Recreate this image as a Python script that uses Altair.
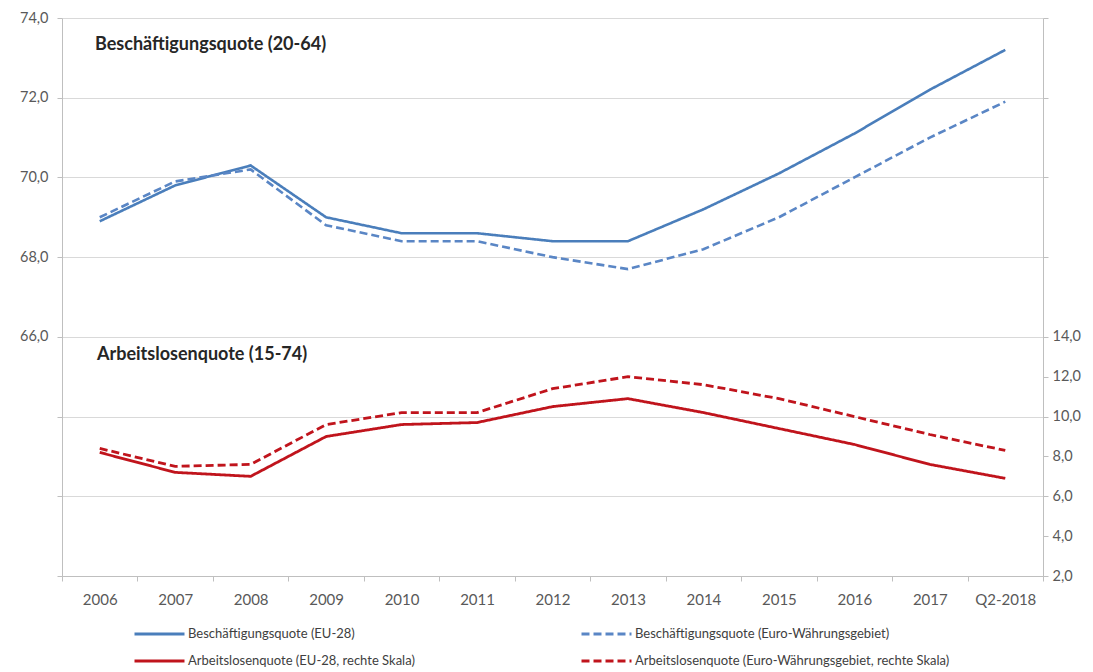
import altair as alt
import pandas as pd

years = ["2006", "2007", "2008", "2009", "2010", "2011", "2012", "2013",
         "2014", "2015", "2016", "2017", "Q2-2018"]

emp_eu28 = [68.9, 69.8, 70.3, 69.0, 68.6, 68.6, 68.4, 68.4, 69.2, 70.1, 71.1, 72.2, 73.2]
emp_euro = [69.0, 69.9, 70.2, 68.8, 68.4, 68.4, 68.0, 67.7, 68.2, 69.0, 70.0, 71.0, 71.9]
unemp_eu28 = [8.2, 7.2, 7.0, 9.0, 9.6, 9.7, 10.5, 10.9, 10.2, 9.4, 8.6, 7.6, 6.9]
unemp_euro = [8.4, 7.5, 7.6, 9.6, 10.2, 10.2, 11.4, 12.0, 11.6, 10.9, 10.0, 9.1, 8.3]

s_emp_eu = "Beschäftigungsquote (EU-28)"
s_emp_ea = "Beschäftigungsquote (Euro-Währungsgebiet)"
s_un_eu = "Arbeitslosenquote (EU-28, rechte Skala)"
s_un_ea = "Arbeitslosenquote (Euro-Währungsgebiet, rechte Skala)"

# legend order (filled column by column)
series = [s_emp_eu, s_un_eu, s_emp_ea, s_un_ea]
colors = ["#4a7ebb", "#c0141c", "#5a86c5", "#c0141c"]
dashes = [[1, 0], [1, 0], [8, 4], [8, 4]]

emp_df = pd.DataFrame(
    [{"Jahr": y, "Reihe": s_emp_eu, "Wert": v} for y, v in zip(years, emp_eu28)]
    + [{"Jahr": y, "Reihe": s_emp_ea, "Wert": v} for y, v in zip(years, emp_euro)]
)
unemp_df = pd.DataFrame(
    [{"Jahr": y, "Reihe": s_un_eu, "Wert": v} for y, v in zip(years, unemp_eu28)]
    + [{"Jahr": y, "Reihe": s_un_ea, "Wert": v} for y, v in zip(years, unemp_euro)]
)

FONT = "Lato"
LBL = "#595959"
AX = "#bfbfbf"

legend = alt.Legend(
    title=None, orient="none", legendX=71, legendY=608,
    columns=2, columnPadding=165, rowPadding=11, clipHeight=16,
    symbolType="stroke", symbolSize=2500, symbolStrokeWidth=3,
    labelFont=FONT, labelFontSize=13, labelColor="#404040", labelOffset=2,
    labelLimit=500,
)

x_enc = alt.X(
    "Jahr:N", sort=years, bandPosition=0.5,
    scale=alt.Scale(type="band", paddingInner=0, paddingOuter=0),
    axis=alt.Axis(title=None, labelAngle=0, tickBand="extent", grid=False,
                  domainColor=AX, tickColor=AX, tickSize=5, labelPadding=11,
                  labelFont=FONT, labelFontSize=15, labelColor=LBL),
)

color_enc = alt.Color("Reihe:N", scale=alt.Scale(domain=series, range=colors), sort=series, legend=legend)
dash_enc = alt.StrokeDash("Reihe:N", scale=alt.Scale(domain=series, range=dashes), sort=series, legend=legend)

fmt = "replace(format(datum.value, '.1f'), '.', ',')"

emp = alt.Chart(emp_df).mark_line(strokeWidth=2.6).encode(
    x=x_enc,
    y=alt.Y("Wert:Q", scale=alt.Scale(domain=[60, 74], nice=False, zero=False),
            axis=alt.Axis(orient="left", title=None, values=list(range(60, 75, 2)),
                          labelExpr=f"datum.value >= 66 ? {fmt} : ''",
                          grid=True, gridColor="#d9d9d9", domainColor=AX, tickColor=AX,
                          tickSize=5, labelPadding=9, labelFont=FONT, labelFontSize=14.5,
                          labelColor=LBL)),
    color=color_enc,
    strokeDash=dash_enc,
)

unemp = alt.Chart(unemp_df).mark_line(strokeWidth=2.8).encode(
    x=x_enc,
    y=alt.Y("Wert:Q", scale=alt.Scale(domain=[2, 30], nice=False, zero=False),
            axis=alt.Axis(orient="right", title=None,
                          values=[2, 4, 6, 8, 10, 12, 14, 18, 22, 26, 30],
                          labelExpr=f"datum.value <= 14 ? {fmt} : ''",
                          grid=False, domainColor=AX, tickColor=AX, tickSize=5,
                          labelPadding=4, labelFont=FONT, labelFontSize=14.5,
                          labelColor=LBL)),
    color=color_enc,
    strokeDash=dash_enc,
)

ann_df = pd.DataFrame({"t": ["Beschäftigungsquote (20-64)"]})
ann2_df = pd.DataFrame({"t": ["Arbeitslosenquote (15-74)"]})
ann1 = alt.Chart(ann_df).mark_text(align="left", baseline="middle", fontWeight="bold",
                                   font=FONT, fontSize=18, color="#262626").encode(
    text="t:N", x=alt.value(33), y=alt.value(27))
ann2 = alt.Chart(ann2_df).mark_text(align="left", baseline="middle", fontWeight="bold",
                                    font=FONT, fontSize=18, color="#262626").encode(
    text="t:N", x=alt.value(35), y=alt.value(337))

chart = alt.layer(emp, unemp, ann1, ann2).resolve_scale(y="independent").properties(
    width=981, height=558,
    autosize=alt.AutoSizeParams(type="none"),
    padding={"left": 54, "top": 10, "right": 40, "bottom": 96},
).configure_view(stroke=None).configure_legend(symbolLimit=0)

chart.save("out.html", embed_options={"renderer": "svg", "actions": False})
